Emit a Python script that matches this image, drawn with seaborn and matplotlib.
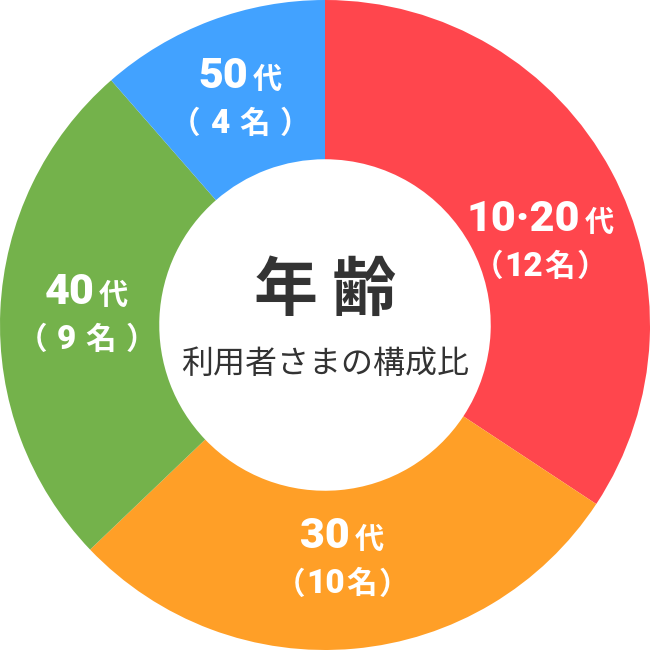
import numpy as np
import matplotlib
matplotlib.use("Agg")
import matplotlib.pyplot as plt
import seaborn as sns
from matplotlib.offsetbox import TextArea, HPacker, VPacker, AnnotationBbox

ages = ['10·20', '30', '40', '50']
counts = [12, 10, 9, 4]
colors = ['#FF464D', '#FF9F27', '#74B24B', '#42A2FF']

sns.set_style("white")
plt.rcParams['font.family'] = ['Noto Sans CJK JP', 'DejaVu Sans']

fig, ax = plt.subplots(figsize=(6.5, 6.5), dpi=100)
fig.subplots_adjust(0, 0, 1, 1)

wedges, _ = ax.pie(counts, colors=colors, startangle=90, counterclock=False,
                   radius=1.0, wedgeprops=dict(width=0.49, linewidth=0))
ax.set_xlim(-1, 1)
ax.set_ylim(-1, 1)
ax.set_aspect('equal')

num_font = dict(family=['Roboto', 'Noto Sans CJK JP'], weight='heavy', color='white')
kanji_font = dict(family=['Noto Sans CJK JP'], weight='bold', color='white')

# label placement tweaks (angle shift in degrees, radius)
shifts = [-7, -1, 0, 0]
radii = [0.71, 0.72, 0.735, 0.745]

for w, age, n, sh, r in zip(wedges, ages, counts, shifts, radii):
    mid = np.deg2rad((w.theta1 + w.theta2) / 2 + sh)
    x, y = r * np.cos(mid), r * np.sin(mid)
    gap = 7 if n < 10 else 1
    line1 = HPacker(children=[
        TextArea(age, textprops=dict(size=31, **num_font)),
        TextArea('代', textprops=dict(size=21, **kanji_font)),
    ], align='baseline', pad=0, sep=3)
    line2 = HPacker(children=[
        TextArea('（', textprops=dict(size=22, **kanji_font)),
        TextArea(str(n), textprops=dict(size=24, **num_font)),
        TextArea('名', textprops=dict(size=22, **kanji_font)),
        TextArea('）', textprops=dict(size=22, **kanji_font)),
    ], align='baseline', pad=0, sep=gap)
    box = VPacker(children=[line1, line2], align='center', pad=0, sep=8)
    ab = AnnotationBbox(box, (x, y), frameon=False, box_alignment=(0.5, 0.5))
    ax.add_artist(ab)

ax.text(0, 0.105, '年 齢', ha='center', va='center', fontsize=46,
        fontweight='bold', color='#333333')
ax.text(0, -0.12, '利用者さまの構成比', ha='center', va='center', fontsize=23,
        color='#333333')

ax.axis('off')
fig.savefig('out.png', dpi=100)
